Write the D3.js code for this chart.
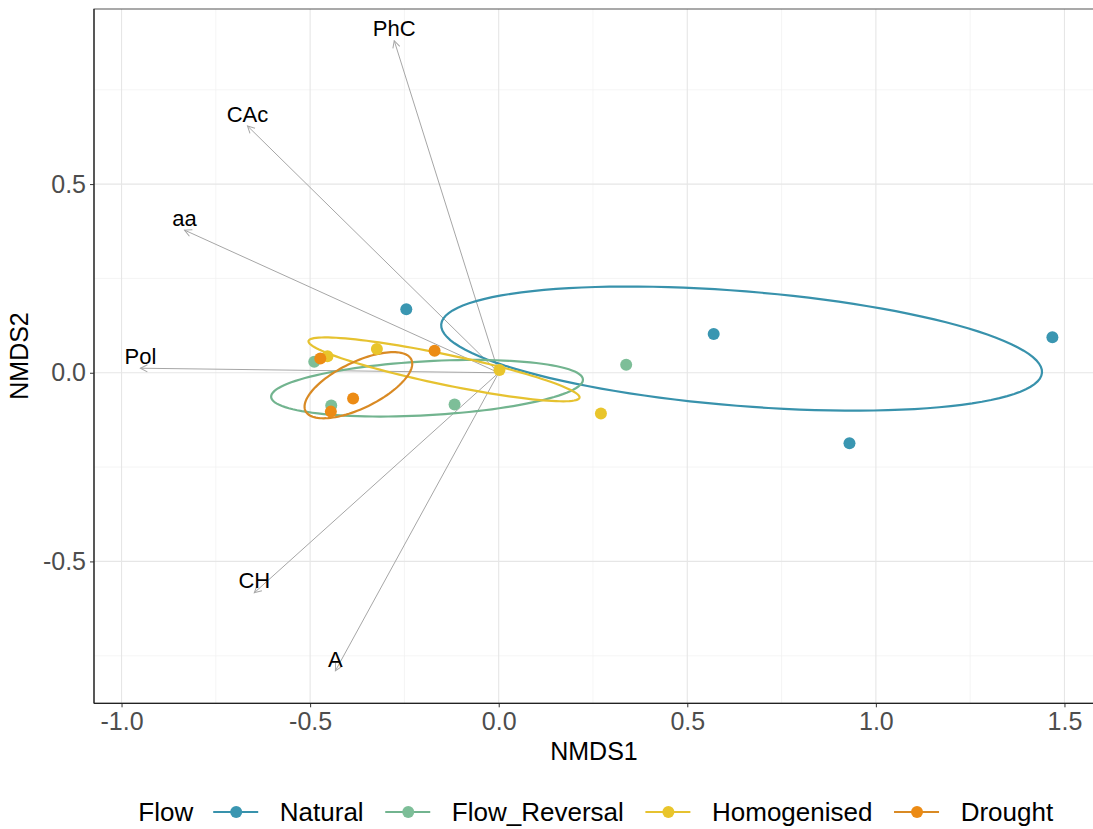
<!DOCTYPE html>
<html>
<head>
<meta charset="utf-8">
<script src="https://cdn.jsdelivr.net/npm/d3@7"></script>
<style>
  body { margin: 0; background: #fff; }
  svg { font-family: "Liberation Sans", Arial, sans-serif; display: block; }
</style>
</head>
<body>
<svg width="1093" height="829"></svg>
<script>
// **** Data ****

var flowGroups = ['Natural', 'Flow_Reversal', 'Homogenised', 'Drought'];
var pointColours = ['#3A96B1', '#7DBE98', '#E9C52B', '#EC8B14'];
var ellipseColours = ['#3892AC', '#72B48F', '#E6C230', '#D98A24'];

// site scores (4 sites per flow treatment)
var siteGroup = ['Natural', 'Natural', 'Natural', 'Natural',
    'Flow_Reversal', 'Flow_Reversal', 'Flow_Reversal', 'Flow_Reversal',
    'Homogenised', 'Homogenised', 'Homogenised', 'Homogenised',
    'Drought', 'Drought', 'Drought', 'Drought'];
var siteX = [-0.245, 0.570, 1.468, 0.930,
    0.338, -0.489, -0.444, -0.117,
    -0.454, -0.323, 0.002, 0.271,
    -0.473, -0.170, -0.386, -0.445];
var siteY = [0.168, 0.103, 0.094, -0.187,
    0.021, 0.029, -0.087, -0.084,
    0.044, 0.063, 0.007, -0.108,
    0.038, 0.058, -0.068, -0.103];

// ellipse centre, semi axes and tilt (degrees) per treatment
var ellCx = [0.644, -0.190, -0.145, -0.372];
var ellCy = [0.064, -0.041, 0.009, -0.033];
var ellA = [0.799, 0.414, 0.367, 0.156];
var ellB = [0.152, 0.0715, 0.040, 0.061];
var ellAngle = [-4.6, 3.2, -11.8, 26];

// fitted environmental vectors
var vectorNames = ['PhC', 'CAc', 'aa', 'Pol', 'CH', 'A'];
var vectorX = [-0.277, -0.666, -0.833, -0.950, -0.648, -0.433];
var vectorY = [0.880, 0.654, 0.378, 0.012, -0.583, -0.790];

var xTicks = [-1.0, -0.5, 0.0, 0.5, 1.0, 1.5];
var xMinor = [-0.75, -0.25, 0.25, 0.75, 1.25];
var yTicks = [-0.5, 0.0, 0.5];
var yMinor = [-0.75, -0.25, 0.25, 0.75];

// **** Scales ****

var panel = { left: 94, right: 1093.5, top: 9, bottom: 703.3 };

var xScale = d3.scaleLinear()
    .domain([-1.073, 1.577])
    .range([panel.left, panel.right]);

var yScale = d3.scaleLinear()
    .domain([-0.876, 0.964])
    .range([panel.bottom, panel.top]);

var colour = d3.scaleOrdinal().domain(flowGroups).range(pointColours);
var lineColour = d3.scaleOrdinal().domain(flowGroups).range(ellipseColours);

var svg = d3.select('svg');

svg.append('defs').append('clipPath').attr('id', 'clip')
    .append('rect')
    .attr('x', panel.left).attr('y', panel.top)
    .attr('width', panel.right - panel.left)
    .attr('height', panel.bottom - panel.top);

// **** Grid lines ****

var grid = svg.append('g');

grid.selectAll('.xminor').data(xMinor).enter().append('line')
    .attr('x1', d => xScale(d)).attr('x2', d => xScale(d))
    .attr('y1', panel.top).attr('y2', panel.bottom)
    .attr('stroke', '#F0F0F0').attr('stroke-width', 0.7);

grid.selectAll('.yminor').data(yMinor).enter().append('line')
    .attr('y1', d => yScale(d)).attr('y2', d => yScale(d))
    .attr('x1', panel.left).attr('x2', panel.right)
    .attr('stroke', '#F0F0F0').attr('stroke-width', 0.7);

grid.selectAll('.xmajor').data(xTicks).enter().append('line')
    .attr('x1', d => xScale(d)).attr('x2', d => xScale(d))
    .attr('y1', panel.top).attr('y2', panel.bottom)
    .attr('stroke', '#E6E6E6').attr('stroke-width', 1.1);

grid.selectAll('.ymajor').data(yTicks).enter().append('line')
    .attr('y1', d => yScale(d)).attr('y2', d => yScale(d))
    .attr('x1', panel.left).attr('x2', panel.right)
    .attr('stroke', '#E6E6E6').attr('stroke-width', 1.1);

// **** Vectors ****

svg.append('defs').append('marker')
    .attr('id', 'head')
    .attr('viewBox', '-8 -5 10 10')
    .attr('refX', 0).attr('refY', 0)
    .attr('markerWidth', 10).attr('markerHeight', 10)
    .attr('markerUnits', 'userSpaceOnUse')
    .attr('orient', 'auto')
    .append('path')
    .attr('d', 'M-7,-3.6 L0,0 L-7,3.6')
    .attr('fill', 'none')
    .attr('stroke', '#A6A6A6')
    .attr('stroke-width', 1);

var plot = svg.append('g').attr('clip-path', 'url(#clip)');

plot.selectAll('.vector').data(vectorNames).enter().append('line')
    .attr('x1', xScale(0)).attr('y1', yScale(0))
    .attr('x2', (d, i) => xScale(vectorX[i]))
    .attr('y2', (d, i) => yScale(vectorY[i]))
    .attr('stroke', '#A6A6A6')
    .attr('stroke-width', 1)
    .attr('marker-end', 'url(#head)');

// **** Ellipses ****

var ellipseLine = d3.line()
    .x(d => xScale(d[0]))
    .y(d => yScale(d[1]))
    .curve(d3.curveLinearClosed);

var steps = d3.range(0, 120);

plot.selectAll('.ellipse').data(flowGroups).enter().append('path')
    .attr('d', function(g, i) {
        var phi = ellAngle[i] * Math.PI / 180;
        var pts = steps.map(function(s) {
            var t = s / steps.length * 2 * Math.PI;
            var ex = ellA[i] * Math.cos(t), ey = ellB[i] * Math.sin(t);
            return [ellCx[i] + ex * Math.cos(phi) - ey * Math.sin(phi),
                    ellCy[i] + ex * Math.sin(phi) + ey * Math.cos(phi)];
        });
        return ellipseLine(pts);
    })
    .attr('fill', 'none')
    .attr('stroke', g => lineColour(g))
    .attr('stroke-width', 2.2);

// **** Points ****

plot.selectAll('.site').data(siteGroup).enter().append('circle')
    .attr('cx', (d, i) => xScale(siteX[i]))
    .attr('cy', (d, i) => yScale(siteY[i]))
    .attr('r', 6)
    .attr('fill', d => colour(d));

// vector labels just above the arrow tips
svg.selectAll('.vlabel').data(vectorNames).enter().append('text')
    .attr('x', (d, i) => xScale(vectorX[i]))
    .attr('y', (d, i) => yScale(vectorY[i]) - 12)
    .attr('dy', '0.35em')
    .style('text-anchor', 'middle')
    .style('font-size', '22px')
    .attr('fill', '#000')
    .text(d => d);

// **** Axes ****

var xAxis = svg.append('g')
    .attr('transform', 'translate(0,' + panel.bottom + ')')
    .call(d3.axisBottom(xScale).tickValues(xTicks).tickSize(4).tickPadding(5)
        .tickFormat(d => d.toFixed(1)));

var yAxis = svg.append('g')
    .attr('transform', 'translate(' + panel.left + ',0)')
    .call(d3.axisLeft(yScale).tickValues(yTicks).tickSize(4).tickPadding(4)
        .tickFormat(d => d.toFixed(1)));

[xAxis, yAxis].forEach(function(ax) {
    ax.select('.domain').remove();
    ax.selectAll('.tick line').attr('stroke', '#333');
    ax.selectAll('.tick text')
        .attr('fill', '#4D4D4D')
        .style('font-size', '25px')
        .style('font-family', '"Liberation Sans", Arial, sans-serif');
});

// panel border
svg.append('rect')
    .attr('x', panel.left).attr('y', panel.top)
    .attr('width', panel.right - panel.left)
    .attr('height', panel.bottom - panel.top)
    .attr('fill', 'none')
    .attr('stroke', '#555')
    .attr('stroke-width', 1);

svg.append('line')
    .attr('x1', panel.left).attr('x2', panel.left)
    .attr('y1', panel.top).attr('y2', panel.bottom)
    .attr('stroke', '#222').attr('stroke-width', 1.2);
svg.append('line')
    .attr('x1', panel.left).attr('x2', panel.right)
    .attr('y1', panel.bottom).attr('y2', panel.bottom)
    .attr('stroke', '#222').attr('stroke-width', 1.2);

// Axis titles
svg.append('text')
    .attr('x', 594).attr('y', 760)
    .style('text-anchor', 'middle')
    .style('font-size', '25px')
    .text('NMDS1');

svg.append('text')
    .attr('transform', 'translate(28,356) rotate(-90)')
    .style('text-anchor', 'middle')
    .style('font-size', '25px')
    .text('NMDS2');

// **** Legend ****

var legend = svg.append('g').attr('transform', 'translate(0,821)');
var cursor = 138.3;

var title = legend.append('text')
    .attr('x', cursor).attr('y', 0)
    .style('font-size', '26px')
    .text('Flow');
cursor += title.node().getComputedTextLength() + 20;

flowGroups.forEach(function(g) {
    legend.append('line')
        .attr('x1', cursor).attr('x2', cursor + 45)
        .attr('y1', -9).attr('y2', -9)
        .attr('stroke', lineColour(g))
        .attr('stroke-width', 2.2);
    legend.append('circle')
        .attr('cx', cursor + 23).attr('cy', -9)
        .attr('r', 6)
        .attr('fill', colour(g));
    cursor += 45 + 21.6;
    var label = legend.append('text')
        .attr('x', cursor).attr('y', 0)
        .style('font-size', '26px')
        .text(g);
    cursor += label.node().getComputedTextLength() + 21.6;
});
</script>
</body>
</html>
